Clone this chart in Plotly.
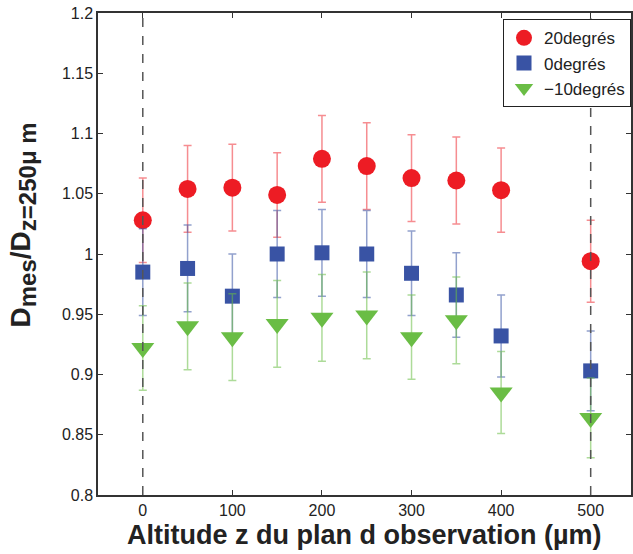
import plotly.graph_objects as go

x_alt = [0, 50, 100, 150, 200, 250, 300, 350, 400, 500]

red_vals = [1.028, 1.054, 1.055, 1.049, 1.079, 1.073, 1.063, 1.061, 1.053, 0.994]
red_err = [0.035, 0.036, 0.036, 0.035, 0.036, 0.036, 0.036, 0.036, 0.035, 0.034]

blue_vals = [0.985, 0.988, 0.965, 1.000, 1.001, 1.000, 0.984, 0.966, 0.932, 0.903]
blue_err = [0.036, 0.036, 0.035, 0.036, 0.036, 0.036, 0.035, 0.035, 0.034, 0.033]

green_vals = [0.922, 0.940, 0.931, 0.942, 0.947, 0.949, 0.931, 0.945, 0.885, 0.864]
green_err = [0.035, 0.036, 0.036, 0.036, 0.036, 0.036, 0.035, 0.036, 0.034, 0.033]

series_names = ["20degrés", "0degrés", "\u221210degrés"]
y_ticks = [0.8, 0.85, 0.9, 0.95, 1.0, 1.05, 1.1, 1.15, 1.2]
y_ticklabels = ["0.8", "0.85", "0.9", "0.95", "1", "1.05", "1.1", "1.15", "1.2"]
x_ticks = [0, 100, 200, 300, 400, 500]
vlines = [0, 500]

FONT = "Liberation Sans, Arial, Helvetica, sans-serif"

fig = go.Figure()

styles = [
    (red_vals, red_err, "#ED1C24", "rgba(237,28,36,0.5)", "circle", 18),
    (blue_vals, blue_err, "#3953A4", "rgba(57,83,164,0.55)", "square", 15),
    (green_vals, green_err, "#6ABD45", "rgba(106,189,69,0.55)", "triangle-down", 20),
]

for name, (vals, err, col, ecol, sym, size) in zip(series_names, styles):
    fig.add_trace(go.Scatter(
        x=x_alt, y=vals, mode="markers", name=name,
        marker=dict(symbol=sym, size=size, color=col, line=dict(width=0)),
        error_y=dict(type="data", array=err, visible=True, color=ecol,
                     thickness=1.5, width=4),
    ))

for xv in vlines:
    fig.add_shape(type="line", x0=xv, x1=xv, y0=0, y1=1, xref="x", yref="paper",
                  line=dict(color="#555555", width=1.5, dash="dash"), layer="above")

ytitle = ("<b>D<sub><span style=\"font-size:24px\">mes</span></sub>/D"
          "<sub><span style=\"font-size:24px\">z=250\u03bc m</span></sub></b>")

fig.update_layout(
    width=633, height=554,
    margin=dict(l=98, r=0, t=13, b=59),
    plot_bgcolor="white", paper_bgcolor="white",
    font=dict(family=FONT, color="#222222", size=16),
    showlegend=True,
    legend=dict(x=1, y=0.987, xanchor="right", yanchor="top",
                bordercolor="#222222", borderwidth=1, bgcolor="white",
                font=dict(family=FONT, size=17, color="#222222"),
                itemsizing="trace", tracegroupgap=0),
    xaxis=dict(range=[-50, 545], tickvals=x_ticks, ticks="inside", ticklen=5,
               tickcolor="#333333", showline=True, linecolor="#333333", linewidth=1.5,
               mirror="ticks", showgrid=False, zeroline=False,
               tickfont=dict(size=16, color="#222222")),
    yaxis=dict(range=[0.8, 1.2], tickvals=y_ticks, ticktext=y_ticklabels,
               ticks="inside", ticklen=5, tickcolor="#333333",
               showline=True, linecolor="#333333", linewidth=1.5, mirror="ticks",
               showgrid=False, zeroline=False, tickfont=dict(size=16, color="#222222")),
    annotations=[
        dict(text=ytitle, textangle=-90, xref="paper", yref="paper",
             x=-0.14, y=0.56, xanchor="center", yanchor="middle", showarrow=False,
             font=dict(size=28, color="#222222", family=FONT)),
        dict(text="<b>Altitude z du plan d observation (µm)</b>",
             xref="paper", yref="paper", x=0.5, y=-0.082,
             xanchor="center", yanchor="middle", showarrow=False,
             font=dict(size=27, color="#222222", family=FONT)),
    ],
)

fig.write_html("out.html")
